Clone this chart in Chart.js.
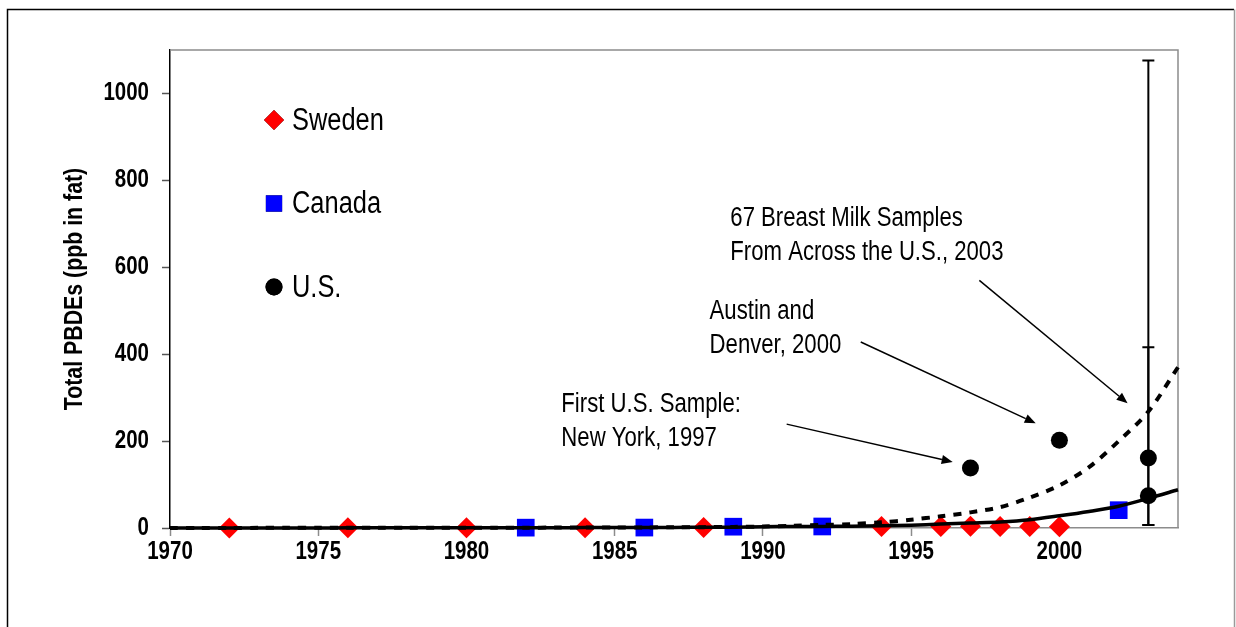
<!DOCTYPE html>
<html>
<head>
<meta charset="utf-8">
<script src="https://cdn.jsdelivr.net/npm/chart.js@4.4.1/dist/chart.umd.min.js"></script>
<style>
  html, body { margin: 0; padding: 0; background: #fff; }
  #wrap { width: 1236px; height: 627px; position: relative; }
</style>
</head>
<body>
<div id="wrap"><canvas id="c" width="1236" height="627"></canvas></div>
<script>
const FONT = "'Liberation Sans', Arial, sans-serif";
const SQUEEZE = 0.82; // the original uses a narrow face

// measured samples
const swedenYears  = [1972, 1976, 1980, 1984, 1988, 1994, 1996, 1997, 1998, 1999, 2000];
const swedenValues = [0.1, 0.3, 0.5, 0.8, 1.2, 3.3, 3.5, 3.8, 3.2, 3.6, 3.0];
const canadaYears  = [1982, 1986, 1989, 1992, 2002];
const canadaValues = [0.8, 1.0, 3.0, 3.5, 41];
const usYears  = [1997, 2000, 2003, 2003];
const usValues = [138, 202, 161, 74];

// error bars on the 2003 U.S. samples
const errYears = [2003, 2003];
const errLow   = [7, 7];
const errHigh  = [1076, 416];

// trend lines
const trendYears = [1970, 1971, 1972, 1973, 1974, 1975, 1976, 1977, 1978, 1979,
                    1980, 1981, 1982, 1983, 1984, 1985, 1986, 1987, 1988, 1989,
                    1990, 1991, 1992, 1993, 1994, 1995, 1996, 1997, 1998, 1999,
                    2000, 2001, 2002, 2003, 2004];
const solidTrend = [0.1, 0.1, 0.1, 0.2, 0.2, 0.2, 0.3, 0.3, 0.4, 0.4,
                    0.5, 0.6, 0.7, 0.8, 0.9, 1.0, 1.2, 1.4, 1.6, 1.8,
                    3, 3.3, 3.6, 4, 5, 6.5, 9, 11.5, 14, 19,
                    28, 38, 50, 68, 88];
const dashedTrend = [0.2, 0.2, 0.2, 0.3, 0.3, 0.3, 0.4, 0.4, 0.5, 0.5,
                     0.6, 0.7, 0.8, 0.9, 1.0, 1.2, 1.4, 1.6, 2, 2.5,
                     3.5, 5, 7, 9, 13, 19, 27, 36, 48, 70,
                     98, 140, 200, 268, 370];

const xTicks = [1970, 1975, 1980, 1985, 1990, 1995, 2000];
const yTicks = [0, 200, 400, 600, 800, 1000];
const yTitle = 'Total PBDEs (ppb in fat)';

const legendLabels = ['Sweden', 'Canada', 'U.S.'];
const legendStyles = ['rectRot', 'rect', 'circle'];
const legendColors = ['#ff0000', '#0000ff', '#000000'];

// callouts (text anchor and arrow, in data units)
const noteLines = [['First U.S. Sample:', 'New York, 1997'],
                   ['Austin and', 'Denver, 2000'],
                   ['67 Breast Milk Samples', 'From Across the U.S., 2003']];
const noteX = [1983.2, 1988.2, 1988.9];
const noteY = [283, 499, 713];
const arrowFromX = [1990.8, 1993.3, 1997.3];
const arrowFromY = [239, 428, 570];
const arrowToX = [1996.4, 1999.2, 2002.3];
const arrowToY = [152, 241, 287];

function pts(xs, ys) { return xs.map((x, i) => ({x: x, y: ys[i]})); }

function narrowText(ctx, text, x, y, align, font, rot) {
  ctx.save();
  ctx.font = font;
  ctx.translate(x, y);
  if (rot) ctx.rotate(rot);
  ctx.scale(SQUEEZE, 1);
  ctx.textAlign = align;
  ctx.textBaseline = 'middle';
  ctx.fillText(text, 0, 0);
  ctx.restore();
}

function arrow(ctx, x1, y1, x2, y2) {
  const a = Math.atan2(y2 - y1, x2 - x1);
  const hl = 11, hw = 4.5;
  ctx.beginPath();
  ctx.moveTo(x1, y1);
  ctx.lineTo(x2 - hl * Math.cos(a), y2 - hl * Math.sin(a));
  ctx.stroke();
  ctx.beginPath();
  ctx.moveTo(x2, y2);
  ctx.lineTo(x2 - hl * Math.cos(a) + hw * Math.sin(a), y2 - hl * Math.sin(a) - hw * Math.cos(a));
  ctx.lineTo(x2 - hl * Math.cos(a) - hw * Math.sin(a), y2 - hl * Math.sin(a) + hw * Math.cos(a));
  ctx.closePath();
  ctx.fill();
}

const extras = {
  id: 'extras',
  beforeDraw(chart) {
    const ctx = chart.ctx;
    ctx.save();
    ctx.fillStyle = '#fff';
    ctx.fillRect(0, 0, chart.width, chart.height);
    ctx.lineWidth = 1.5;
    ctx.strokeStyle = '#000';
    ctx.beginPath();
    ctx.moveTo(7.5, chart.height);
    ctx.lineTo(7.5, 9.5);
    ctx.lineTo(1234, 9.5);
    ctx.stroke();
    ctx.strokeStyle = '#9a9a9a';
    ctx.beginPath();
    ctx.moveTo(1234.5, 9.5);
    ctx.lineTo(1234.5, chart.height);
    ctx.stroke();
    ctx.restore();
  },
  afterDraw(chart) {
    const ctx = chart.ctx, xs = chart.scales.x, ys = chart.scales.y, a = chart.chartArea;
    ctx.save();
    ctx.fillStyle = '#000';
    // tick labels and axis title in the narrow face
    const tickFont = 'bold 25px ' + FONT;
    xs.ticks.forEach(t => narrowText(ctx, String(t.value), xs.getPixelForValue(t.value), a.bottom + 24, 'center', tickFont));
    ys.ticks.forEach(t => narrowText(ctx, String(t.value), a.left - 21, ys.getPixelForValue(t.value), 'right', tickFont));
    narrowText(ctx, yTitle, 75, (a.top + a.bottom) / 2, 'center', 'bold 26px ' + FONT, -Math.PI / 2);
    ctx.restore();
  },
  beforeDatasetsDraw(chart) {
    const ctx = chart.ctx, a = chart.chartArea;
    ctx.save();
    // plot frame (top/right)
    ctx.strokeStyle = '#8c8c8c';
    ctx.lineWidth = 1.5;
    ctx.beginPath();
    ctx.moveTo(a.left, a.top);
    ctx.lineTo(a.right, a.top);
    ctx.lineTo(a.right, a.bottom);
    ctx.stroke();
    ctx.restore();
  },
  afterDatasetsDraw(chart) {
    const ctx = chart.ctx, xs = chart.scales.x, ys = chart.scales.y, a = chart.chartArea;
    ctx.save();
    // error bars
    ctx.strokeStyle = '#000';
    ctx.lineWidth = 2;
    errYears.forEach((yr, i) => {
      const px = xs.getPixelForValue(yr);
      const lo = ys.getPixelForValue(errLow[i]);
      const hi = ys.getPixelForValue(errHigh[i]);
      ctx.beginPath();
      ctx.moveTo(px, lo); ctx.lineTo(px, hi);
      ctx.moveTo(px - 6, lo); ctx.lineTo(px + 6, lo);
      ctx.moveTo(px - 6, hi); ctx.lineTo(px + 6, hi);
      ctx.stroke();
    });

    // callout text and arrows
    ctx.fillStyle = '#000';
    noteLines.forEach((lines, i) => {
      const px = xs.getPixelForValue(noteX[i]);
      const py = ys.getPixelForValue(noteY[i]);
      lines.forEach((t, j) => narrowText(ctx, t, px, py + j * 34, 'left', '27px ' + FONT));
    });
    ctx.lineWidth = 1.5;
    noteLines.forEach((_, i) => {
      arrow(ctx,
        xs.getPixelForValue(arrowFromX[i]), ys.getPixelForValue(arrowFromY[i]),
        xs.getPixelForValue(arrowToX[i]), ys.getPixelForValue(arrowToY[i]));
    });

    // legend inside the plot
    legendLabels.forEach((lab, i) => {
      const cy = a.top + 70 + i * 83.5;
      const cx = a.left + 104;
      ctx.beginPath();
      Chart.helpers.drawPoint(ctx, {pointStyle: legendStyles[i], radius: [10, 11.5, 8.5][i], rotation: 0, borderWidth: 0}, cx, cy);
      ctx.fillStyle = legendColors[i];
      ctx.fill();
      ctx.fillStyle = '#000';
      narrowText(ctx, lab, cx + 18, cy + 1, 'left', '31px ' + FONT);
    });
    ctx.restore();
  }
};

new Chart(document.getElementById('c'), {
  type: 'scatter',
  data: {
    datasets: [{
      label: 'Sweden',
      data: pts(swedenYears, swedenValues),
      pointStyle: 'rectRot',
      pointRadius: 10.5,
      backgroundColor: '#ff0000',
      borderColor: '#ff0000',
      borderWidth: 0,
      clip: false,
      order: 2
    }, {
      label: 'Canada',
      data: pts(canadaYears, canadaValues),
      pointStyle: 'rect',
      pointRadius: 12.5,
      backgroundColor: '#0000ff',
      borderColor: '#0000ff',
      borderWidth: 0,
      clip: false,
      order: 2
    }, {
      label: 'U.S.',
      data: pts(usYears, usValues),
      pointStyle: 'circle',
      pointRadius: 8.5,
      backgroundColor: '#000',
      borderColor: '#000',
      borderWidth: 0,
      clip: false,
      order: 0
    }, {
      type: 'line',
      label: 'trend',
      data: pts(trendYears, solidTrend),
      borderColor: '#000',
      borderWidth: 3.5,
      pointRadius: 0,
      fill: false,
      tension: 0.3,
      clip: false,
      order: 1
    }, {
      type: 'line',
      label: 'trend2',
      data: pts(trendYears, dashedTrend),
      borderColor: '#000',
      borderWidth: 4,
      borderDash: [8, 8],
      pointRadius: 0,
      fill: false,
      tension: 0.3,
      clip: false,
      order: 1
    }]
  },
  options: {
    responsive: false,
    animation: false,
    events: [],
    layout: { padding: { top: 50, right: 58, left: 0, bottom: 0 } },
    plugins: { legend: { display: false }, tooltip: { enabled: false } },
    scales: {
      x: {
        type: 'linear',
        min: 1970,
        max: 2004,
        afterFit: s => { s.height = 99; },
        afterBuildTicks: s => { s.ticks = xTicks.map(v => ({value: v})); },
        grid: { drawOnChartArea: false, drawTicks: true, tickLength: 8, tickColor: '#8c8c8c', tickWidth: 1.5 },
        border: { color: '#8c8c8c', width: 1.5 },
        ticks: { display: false }
      },
      y: {
        min: 0,
        max: 1100,
        afterFit: s => { s.width = 170; },
        afterBuildTicks: s => { s.ticks = yTicks.map(v => ({value: v})); },
        grid: { drawOnChartArea: false, drawTicks: true, tickLength: 8, tickColor: '#555', tickWidth: 1.5 },
        border: { color: '#000', width: 1.5 },
        ticks: { display: false }
      }
    }
  },
  plugins: [extras]
});
</script>
</body>
</html>
